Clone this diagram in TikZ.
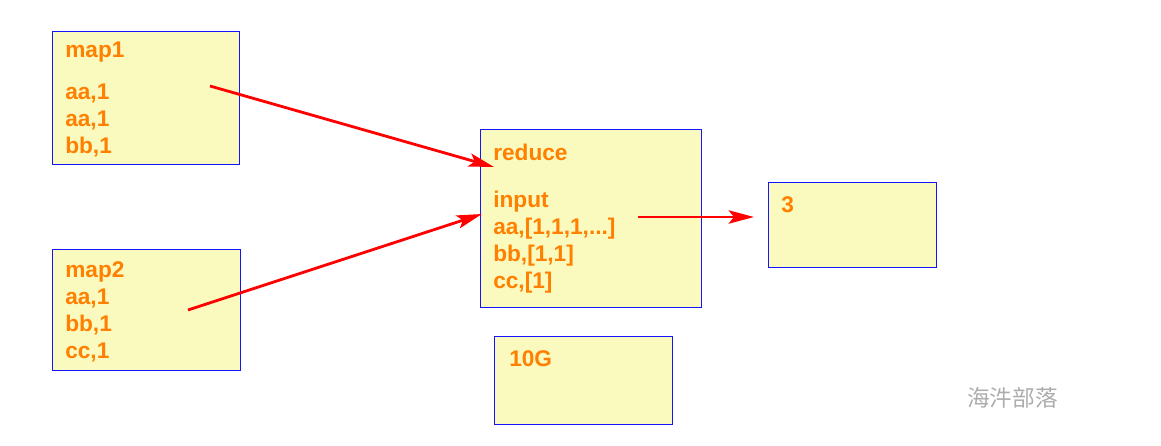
\documentclass[tikz,border=0pt]{standalone}
\usepackage{fontspec}
\setmainfont{Liberation Sans}
\newfontfamily\cjkfont{Noto Sans CJK SC}
\usepackage{xcolor}
\usetikzlibrary{arrows.meta}

\definecolor{boxfill}{RGB}{250,250,190}
\definecolor{boxline}{RGB}{20,20,255}
\definecolor{txtorange}{RGB}{255,128,0}
\definecolor{arrred}{RGB}{255,0,0}

\begin{document}
\begin{tikzpicture}[
    x=0.75pt, y=-0.75pt,
    box/.style={draw=boxline, line width=1.1pt, fill=boxfill, inner sep=0pt, anchor=north west},
    lbl/.style={anchor=base west, inner sep=0pt, align=left, text=txtorange,
        font=\fontsize{17}{20.25}\selectfont\bfseries},
    arr/.style={-{Stealth[length=19pt, width=10pt, inset=4pt]}, arrred, line width=2.1pt},
]
\useasboundingbox (0,0) rectangle (1161,446);

% boxes
\node[box, minimum width=140.25pt, minimum height=99.75pt] (map1) at (52,31) {};
\node[box, minimum width=141pt, minimum height=90.75pt] (map2) at (52,249) {};
\node[box, minimum width=165.75pt, minimum height=133.5pt] (reduce) at (480,129) {};
\node[box, minimum width=126pt, minimum height=63.75pt] (result) at (768,182) {};
\node[box, minimum width=133.5pt, minimum height=66pt] (size) at (494,336) {};

% texts (base = last line)
\node[lbl] (map1txt) at (65,153) {map1\\[11pt]aa,1\\aa,1\\bb,1};
\node[lbl] (map2txt) at (65,358) {map2\\aa,1\\bb,1\\cc,1};
\node[lbl] (reducetxt) at (493,288) {reduce\\[15pt]input\\aa,[1,1,1,...]\\bb,[1,1]\\cc,[1]};
\node[lbl] (resulttxt) at (781,212) {3};
\node[lbl] (sizetxt) at (509,366) {10G};

\node[anchor=base west, inner sep=0pt, text=gray!65, font=\cjkfont\fontsize{17}{17}\selectfont] (mark) at (967,406) {海汼部落};

% arrow ends
\coordinate (m1out) at (210,86);
\coordinate (m2out) at (188,310);
\coordinate (redin1) at (494,167);
\coordinate (redin2) at (482,214);
\coordinate (redout) at (638,217);
\coordinate (resin) at (754,217);

\draw[arr] (m1out) -- (redin1);
\draw[arr] (m2out) -- (redin2);
\draw[arr] (redout) -- (resin);
\end{tikzpicture}
\end{document}
